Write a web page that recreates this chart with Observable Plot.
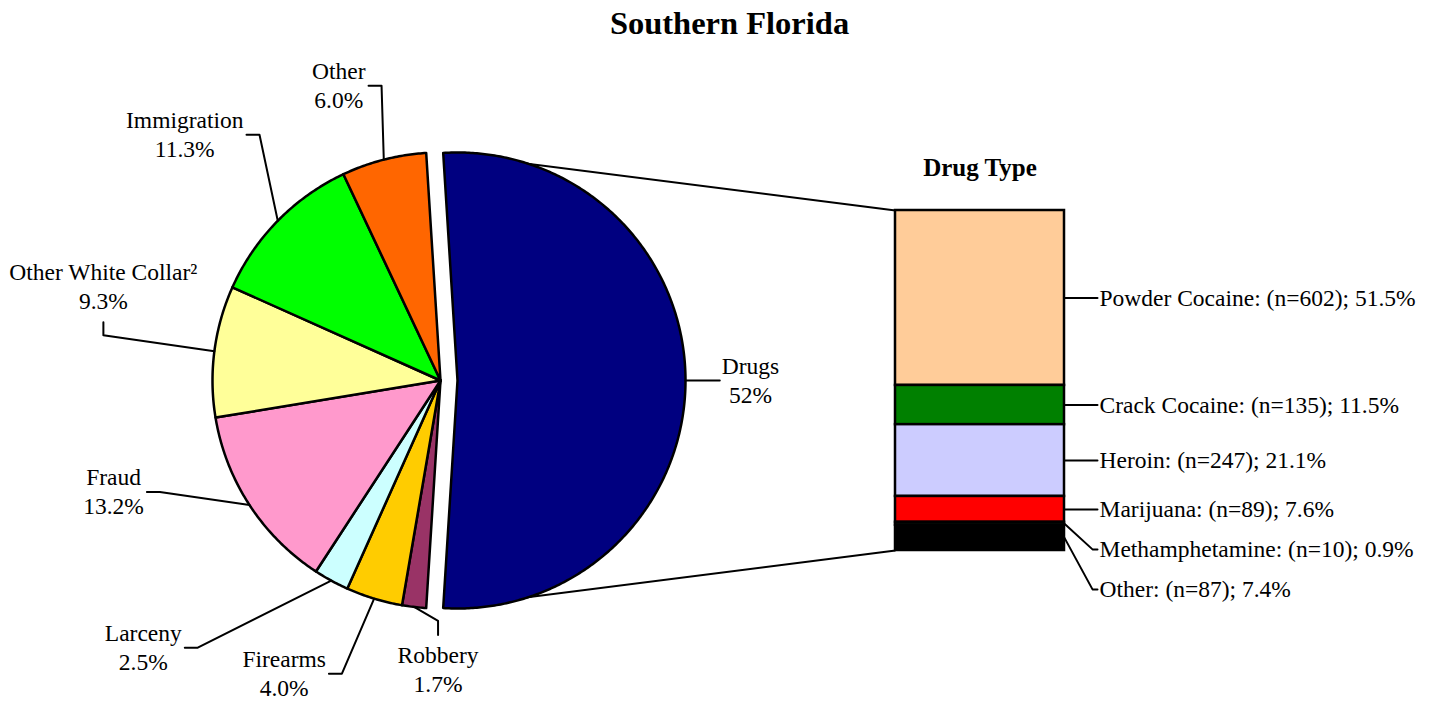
<!DOCTYPE html>
<html><head><meta charset="utf-8">
<script src="https://cdn.jsdelivr.net/npm/d3@7"></script>
<script src="https://cdn.jsdelivr.net/npm/@observablehq/plot@0.6"></script>
<style>html,body{margin:0;padding:0;background:#fff;} svg{display:block}</style>
</head><body><div id="chart"></div>
<script>
// ---------- data ----------
const chartTitle = "Southern Florida";
const offenseTypes = ["Drugs", "Robbery", "Firearms", "Larceny", "Fraud", "Other White Collar\u00B2", "Immigration", "Other"];
const offensePercents = [52.0, 1.7, 4.0, 2.5, 13.2, 9.3, 11.3, 6.0];
const offensePctLabels = ["52%", "1.7%", "4.0%", "2.5%", "13.2%", "9.3%", "11.3%", "6.0%"];
const offenseColors = ["#000080", "#993366", "#FFCC00", "#CCFFFF", "#FF99CC", "#FFFF99", "#00FF00", "#FF6600"];

const drugTitle = "Drug Type";
const drugTypes = ["Powder Cocaine", "Crack Cocaine", "Heroin", "Marijuana", "Methamphetamine", "Other"];
const drugCounts = [602, 135, 247, 89, 10, 87];
const drugPercents = [51.5, 11.5, 21.1, 7.6, 0.9, 7.4];
const drugColors = ["#FFCC99", "#008000", "#CCCCFF", "#FF0000", "#1a2a1a", "#000000"];

// ---------- layout ----------
const W = 1436, H = 701;
const pie = {cx: 440, cy: 380, r: 228, explode: 17};
const bar = {x0: 895, x1: 1064, y0: 210, y1: 550};
const font = "Liberation Serif, Times New Roman, serif";
const fs = 23.5;
const lineGap = 29;
// label block centre offsets from each slice's edge point, and leader side
const pieLabelLayout = [
  {dx: 65, dy: 0, side: "left"},
  {dx: 24, dy: 63, side: "top"},
  {dx: -90, dy: 75, side: "right"},
  {dx: -188, dy: 67, side: "right"},
  {dx: -136, dy: -13, side: "right"},
  {dx: -111, dy: -64, side: "bottom"},
  {dx: -93, dy: -86, side: "right"},
  {dx: -45, dy: -74, side: "right"}
];

const ctx = document.createElement("canvas").getContext("2d");
function textWidth(s, size) { ctx.font = `${size}px "Liberation Serif"`; return ctx.measureText(s).width; }
const rad = d => d * Math.PI / 180;

// ---------- pie geometry ----------
let a = 90 - offensePercents[0] / 100 * 180;
const slices = offenseTypes.map((name, i) => {
  const a0 = a, a1 = a + offensePercents[i] * 3.6; a = a1;
  const mid = (a0 + a1) / 2;
  const ox = i === 0 ? pie.explode * Math.sin(rad(mid)) : 0;
  const oy = i === 0 ? -pie.explode * Math.cos(rad(mid)) : 0;
  return {name, i, a0, a1, mid, color: offenseColors[i], ox, oy};
});
const polyPts = [];
for (const s of slices) {
  const c = {x: pie.cx + s.ox, y: pie.cy + s.oy};
  polyPts.push({name: s.name, color: s.color, x: c.x, y: c.y});
  const n = Math.max(2, Math.ceil((s.a1 - s.a0) / 0.5));
  for (let k = 0; k <= n; k++) {
    const t = rad(s.a0 + (s.a1 - s.a0) * k / n);
    polyPts.push({name: s.name, color: s.color, x: c.x + pie.r * Math.sin(t), y: c.y - pie.r * Math.cos(t)});
  }
  polyPts.push({name: s.name, color: s.color, x: c.x, y: c.y});
}

// connector lines from the exploded slice to the bar
const d0 = slices[0];
const dc = {x: pie.cx + d0.ox, y: pie.cy + d0.oy};
const connectors = [
  {x1: dc.x + pie.r * Math.sin(rad(d0.a0)), y1: dc.y - pie.r * Math.cos(rad(d0.a0)), x2: bar.x0, y2: bar.y0},
  {x1: dc.x + pie.r * Math.sin(rad(d0.a1)), y1: dc.y - pie.r * Math.cos(rad(d0.a1)), x2: bar.x0, y2: bar.y1}
];

// pie labels + leaders
const pieTexts = [], pieLeaders = [];
slices.forEach((s, i) => {
  const c = {x: pie.cx + s.ox, y: pie.cy + s.oy};
  const ex = c.x + pie.r * Math.sin(rad(s.mid)), ey = c.y - pie.r * Math.cos(rad(s.mid));
  const L = pieLabelLayout[i];
  const lx = ex + L.dx, ly = ey + L.dy;
  pieTexts.push({x: lx, y: ly - lineGap / 2, text: s.name});
  pieTexts.push({x: lx, y: ly + lineGap / 2, text: offensePctLabels[i]});
  const hw = Math.max(textWidth(s.name, fs), textWidth(offensePctLabels[i], fs)) / 2;
  let pts;
  if (L.side === "right") pts = [[lx + hw + 3, ly], [lx + hw + 16, ly], [ex, ey]];
  else if (L.side === "left") pts = [[lx - hw - 2, ly], [ex, ey]];
  else if (L.side === "bottom") pts = [[lx, ly + 35], [lx, ly + 48], [ex, ey]];
  else pts = [[lx, ly - 35], [lx, ly - 49], [ex, ey]];
  pts.forEach(p => pieLeaders.push({id: s.name, x: p[0], y: p[1]}));
});

// ---------- bar geometry ----------
const total = d3.sum(drugCounts);
let cum = 0;
const barRows = drugTypes.map((name, i) => {
  const y1 = bar.y0 + cum / total * (bar.y1 - bar.y0);
  cum += drugCounts[i];
  const y2 = bar.y0 + cum / total * (bar.y1 - bar.y0);
  return {name, x1: bar.x0, x2: bar.x1, y1, y2, color: drugColors[i],
    label: `${name}: (n=${drugCounts[i]}); ${drugPercents[i].toFixed(1)}%`};
});
let prevY = -Infinity;
const barTexts = [], barLeaders = [];
barRows.forEach(r => {
  const mid = (r.y1 + r.y2) / 2;
  const ly = Math.max(mid, prevY + 40); prevY = ly;
  barTexts.push({x: bar.x1 + 35, y: ly, text: r.label});
  barLeaders.push({id: r.name, x: bar.x1, y: mid}, {id: r.name, x: bar.x1 + 28, y: ly}, {id: r.name, x: bar.x1 + 33, y: ly});
});

const titles = [
  {x: 729, y: 33 - 0.32 * 32.5, text: chartTitle, size: 32.5},
  {x: (bar.x0 + bar.x1) / 2, y: 175 - 0.32 * 25, text: drugTitle, size: 25}
];

const chart = Plot.plot({
  width: W, height: H, margin: 0,
  x: {type: "linear", domain: [0, W], range: [0, W], axis: null},
  y: {type: "linear", domain: [0, H], range: [0, H], axis: null},
  color: {type: "identity"},
  style: {background: "white", fontFamily: font},
  marks: [
    Plot.link(connectors, {x1: "x1", y1: "y1", x2: "x2", y2: "y2", stroke: "black", strokeWidth: 2}),
    Plot.line(polyPts, {x: "x", y: "y", z: "name", fill: "color", stroke: "black", strokeWidth: 2.5, strokeLinejoin: "round", curve: "linear"}),
    Plot.rect(barRows, {x1: "x1", x2: "x2", y1: "y1", y2: "y2", fill: "color", stroke: "black", strokeWidth: 2.5}),
    Plot.line(pieLeaders, {x: "x", y: "y", z: "id", stroke: "black", strokeWidth: 2, curve: "linear"}),
    Plot.line(barLeaders, {x: "x", y: "y", z: "id", stroke: "black", strokeWidth: 2, curve: "linear"}),
    Plot.text(pieTexts, {x: "x", y: "y", text: "text", fontSize: fs, fontFamily: font, fill: "black", textAnchor: "middle"}),
    Plot.text(barTexts, {x: "x", y: "y", text: "text", fontSize: fs, fontFamily: font, fill: "black", textAnchor: "start"}),
    Plot.text(titles.slice(0, 1), {x: "x", y: "y", text: "text", fontSize: 32.5, fontWeight: "bold", fontFamily: font, fill: "black"}),
    Plot.text(titles.slice(1), {x: "x", y: "y", text: "text", fontSize: 25, fontWeight: "bold", fontFamily: font, fill: "black"})
  ]
});
document.getElementById("chart").appendChild(chart);
</script>
</body></html>
